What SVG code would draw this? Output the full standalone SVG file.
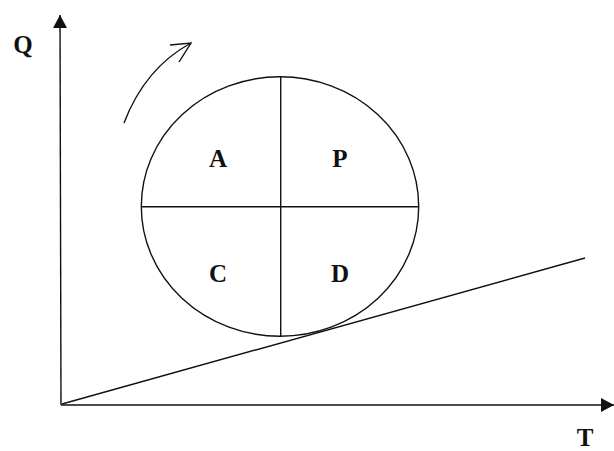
<svg xmlns="http://www.w3.org/2000/svg" width="614" height="451" viewBox="0 0 614 451">
<style>
.ln{stroke:#111;stroke-width:1.4;fill:none}
.lb{font-family:"Liberation Serif","Times New Roman",serif;font-weight:bold;font-size:25px;fill:#111;text-anchor:middle}
</style>
<defs>
<marker id="tri2" viewBox="0 0 10 10" refX="10" refY="5" markerWidth="13" markerHeight="14" markerUnits="userSpaceOnUse" orient="auto" preserveAspectRatio="none">
<path d="M0,0 L10,5 L0,10 Z" fill="#111"/>
</marker>
</defs>
<rect width="614" height="451" fill="#fff"/>
<g id="connectors">
<line class="ln" x1="61" y1="405" x2="60" y2="15" marker-end="url(#tri2)"/>
<line class="ln" x1="61" y1="405" x2="614" y2="405" marker-end="url(#tri2)"/>
<line class="ln" x1="62" y1="404" x2="585" y2="258"/>
<path class="ln" d="M124,123 Q145,68 191,43"/>
<path class="ln" d="M170,45 L191,43 L179,62"/>
</g>
<g id="pdca">
<ellipse class="ln" cx="280" cy="206.5" rx="138.7" ry="129.7"/>
<line class="ln" x1="280.7" y1="77" x2="280.7" y2="336"/>
<line class="ln" x1="141.3" y1="206.7" x2="418.7" y2="206.7"/>
</g>
<g id="label-A"><text class="lb" x="218" y="167">A</text></g>
<g id="label-P"><text class="lb" x="340" y="167">P</text></g>
<g id="label-C"><text class="lb" x="218" y="282">C</text></g>
<g id="label-D"><text class="lb" x="340" y="282">D</text></g>
<g id="label-Q"><text class="lb" x="23" y="53">Q</text></g>
<g id="label-T"><text class="lb" x="585" y="446">T</text></g>
</svg>
